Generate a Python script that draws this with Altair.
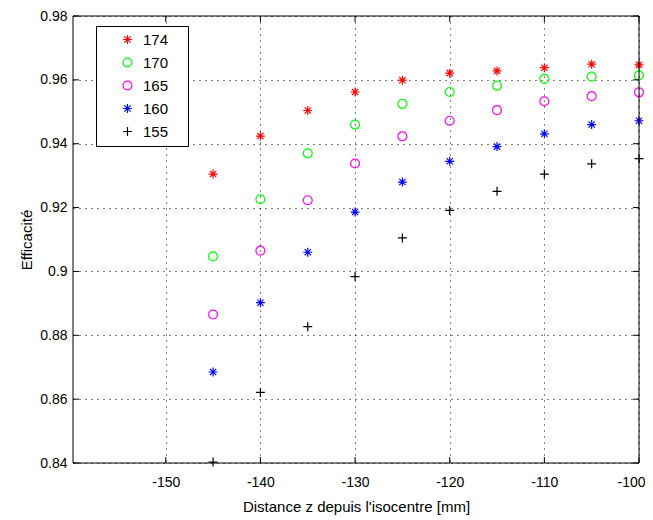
import altair as alt
import pandas as pd

# ---- data ----
z = [-145, -140, -135, -130, -125, -120, -115, -110, -105, -100]
s174 = [0.9305, 0.9424, 0.9504, 0.9562, 0.9599, 0.9621, 0.9628, 0.9638, 0.9649, 0.9647]
s170 = [0.9047, 0.9226, 0.9370, 0.9460, 0.9525, 0.9562, 0.9582, 0.9603, 0.9610, 0.9614]
s165 = [0.8865, 0.9065, 0.9223, 0.9338, 0.9423, 0.9472, 0.9505, 0.9533, 0.9549, 0.9561]
s160 = [0.8685, 0.8902, 0.9060, 0.9186, 0.9280, 0.9345, 0.9391, 0.9431, 0.9460, 0.9472]
s155 = [0.8403, 0.8621, 0.8827, 0.8984, 0.9105, 0.9191, 0.9251, 0.9305, 0.9337, 0.9353]

series_names = ["174", "170", "165", "160", "155"]
series_values = [s174, s170, s165, s160, s155]
series_colors = ["#ff0000", "#00ff00", "#ff00ff", "#0000ff", "#000000"]

x_ticks = [-150, -140, -130, -120, -110, -100]
y_ticks = [0.84, 0.86, 0.88, 0.90, 0.92, 0.94, 0.96, 0.98]
x_domain = [-159.8, -100]
y_domain = [0.84, 0.98]

# ---- marker shapes ----
ASTERISK = "M-1,0L1,0M0,-1L0,1M-0.7,-0.7L0.7,0.7M-0.7,0.7L0.7,-0.7"
PLUS = "M-1,0L1,0M0,-1L0,1"
series_shapes = [ASTERISK, "circle", "circle", ASTERISK, PLUS]

rows = []
for name, vals in zip(series_names, series_values):
    for zz, v in zip(z, vals):
        rows.append({"z": zz, "eff": v, "serie": name})
df = pd.DataFrame(rows)

xt = pd.DataFrame({"z": x_ticks})
yt = pd.DataFrame({"eff": y_ticks})
one = pd.DataFrame({"k": [0]})

W, H = 566, 447
FONT = "Liberation Sans"

xscale = alt.Scale(domain=x_domain, nice=False, zero=False)
yscale = alt.Scale(domain=y_domain, nice=False, zero=False)

XT = "Distance z depuis l'isocentre [mm]"
YT = "Efficacité"
xaxis = alt.Axis(values=x_ticks, title=XT, ticks=False, tickSize=0, domain=False,
                 labelPadding=12, titlePadding=10, labelExpr="'' + datum.value",
                 labelFlush=True, labelFlushOffset=6)
yaxis = alt.Axis(values=y_ticks, title=YT, ticks=False, tickSize=0, domain=False,
                 labelPadding=6, titlePadding=5, format=".2~f")

# invisible spacer title on the right widens the legend box like the reference
leg = alt.Legend(title="0", titleOrient="right", titleColor="white", titlePadding=5,
                 titleFontSize=15, orient="none", legendX=23, legendY=10)

points = alt.Chart(df).mark_point(filled=False, size=80, strokeWidth=1.2, opacity=1).encode(
    x=alt.X("z:Q", scale=xscale, axis=xaxis),
    y=alt.Y("eff:Q", scale=yscale, axis=yaxis),
    color=alt.Color("serie:N", scale=alt.Scale(domain=series_names, range=series_colors), legend=leg),
    shape=alt.Shape("serie:N", scale=alt.Scale(domain=series_names, range=series_shapes), legend=leg),
)

TL = 6
tick_bottom = alt.Chart(xt).mark_rule(color="black", strokeWidth=1).encode(
    x=alt.X("z:Q", scale=xscale, axis=xaxis), y=alt.value(H), y2=alt.value(H - TL))
tick_top = alt.Chart(xt).mark_rule(color="black", strokeWidth=1).encode(
    x=alt.X("z:Q", scale=xscale, axis=xaxis), y=alt.value(0), y2=alt.value(TL))
tick_left = alt.Chart(yt).mark_rule(color="black", strokeWidth=1).encode(
    y=alt.Y("eff:Q", scale=yscale, axis=yaxis), x=alt.value(0), x2=alt.value(TL))
tick_right = alt.Chart(yt).mark_rule(color="black", strokeWidth=1).encode(
    y=alt.Y("eff:Q", scale=yscale, axis=yaxis), x=alt.value(W - TL), x2=alt.value(W))

frame = alt.Chart(one).mark_rect(fill=None, fillOpacity=0, stroke="black", strokeWidth=1).encode(
    x=alt.value(0), x2=alt.value(W), y=alt.value(0), y2=alt.value(H))

chart = alt.layer(points, tick_bottom, tick_top, tick_left, tick_right, frame).properties(
    width=W, height=H,
    autosize=alt.AutoSizeParams(type="none"),
    padding={"left": 65, "top": 8, "right": 6, "bottom": 55},
).configure_view(
    strokeWidth=0
).configure_axis(
    labelFont=FONT, labelFontSize=14, labelColor="black",
    titleFont=FONT, titleFontSize=15, titleColor="black", titleFontWeight="normal",
    grid=True, gridColor="black", gridDash=[1, 5], gridOpacity=1, gridWidth=1,
).configure_legend(
    labelFont=FONT, labelFontSize=15, labelColor="black", titleFont=FONT,
    strokeColor="black", fillColor="white", padding=6,
    symbolSize=80, symbolStrokeWidth=1.2, symbolOffset=18, labelOffset=8,
    rowPadding=7, cornerRadius=0,
)

chart.save("out.html", embed_options={"renderer": "svg", "actions": False})
